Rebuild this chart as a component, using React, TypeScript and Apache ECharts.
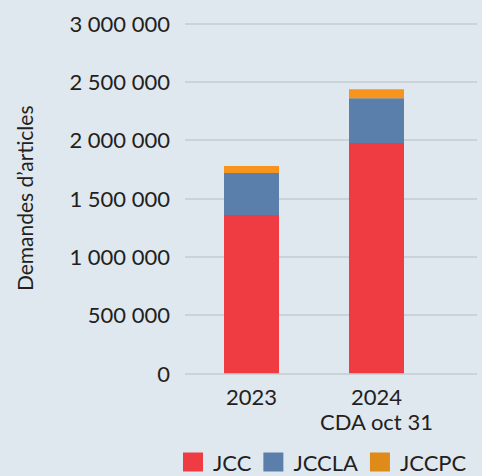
import React, { useEffect, useRef } from "react";
import * as echarts from "echarts";

const categories = ["2023", "2024\nCDA oct 31"];
const seriesNames = ["JCC", "JCCLA", "JCCPC"];
const jcc = [1357000, 1974000];
const jccla = [360000, 383000];
const jccpc = [60000, 77000];
const yMin = 0;
const yMax = 3000000;
const yInterval = 500000;

const colors = ["#ef3b42", "#5a7faa", "#f7941d"];
const legendColors = ["#ef3b42", "#5a7faa", "#de8b19"];
const textColor = "#231f20";
const font = "Lato";

function fmt(v: number) {
  return String(v).replace(/\B(?=(\d{3})+(?!\d))/g, " ");
}

export default function App() {
  const ref = useRef<HTMLDivElement>(null);
  useEffect(() => {
    if (!ref.current) return;
    const chart = echarts.init(ref.current, undefined, { renderer: "svg" });
    const top = 23.3;
    const bottom = 476 - 373.3;
    const data = [jcc, jccla, jccpc];
    chart.setOption({
      animation: false,
      backgroundColor: "#dfe7ef",
      textStyle: { fontFamily: font },
      grid: [
        { left: 185, right: 5, top, bottom },
        { left: 189, right: 43, top, bottom },
      ],
      legend: {
        left: 183,
        top: 451,
        padding: 0,
        icon: "rect",
        itemWidth: 20,
        itemHeight: 19,
        itemGap: 12,
        textStyle: { fontSize: 22, lineHeight: 22, color: textColor, fontFamily: font, padding: [0, 0, 0, 5] },
        data: seriesNames.map((n, i) => ({ name: n, itemStyle: { color: legendColors[i] } })),
      },
      xAxis: [
        {
          type: "category",
          gridIndex: 0,
          data: categories,
          show: false,
        },
        {
          type: "category",
          gridIndex: 1,
          data: categories,
          axisLine: { show: false },
          axisTick: { show: false },
          axisLabel: {
            interval: 0,
            hideOverlap: false,
            fontSize: 22,
            lineHeight: 25,
            color: textColor,
            fontFamily: font,
            margin: 11,
            align: "center",
          },
        },
      ],
      yAxis: [
        {
          type: "value",
          gridIndex: 0,
          min: yMin,
          max: yMax,
          interval: yInterval,
          name: "Demandes d\u2019articles",
          nameLocation: "middle",
          nameGap: 150,
          nameTextStyle: { fontSize: 21, color: textColor, fontFamily: font },
          axisLine: { show: false },
          axisTick: { show: false },
          axisLabel: {
            fontSize: 22,
            color: textColor,
            fontFamily: font,
            margin: 15,
            formatter: (v: number) => fmt(v),
          },
          splitLine: { lineStyle: { color: "#c5cbd1", width: 1.5 } },
        },
        {
          type: "value",
          gridIndex: 1,
          min: yMin,
          max: yMax,
          interval: yInterval,
          show: false,
          splitLine: { show: false },
        },
      ],
      series: seriesNames.map((n, i) => ({
        name: n,
        type: "bar",
        stack: "total",
        xAxisIndex: 1,
        yAxisIndex: 1,
        barWidth: 55,
        itemStyle: { color: colors[i] },
        data: data[i],
      })),
    });
    return () => chart.dispose();
  }, []);
  return (
    <div
      ref={ref}
      style={{ position: "fixed", left: 0, top: 0, width: 482, height: 476 }}
    />
  );
}
